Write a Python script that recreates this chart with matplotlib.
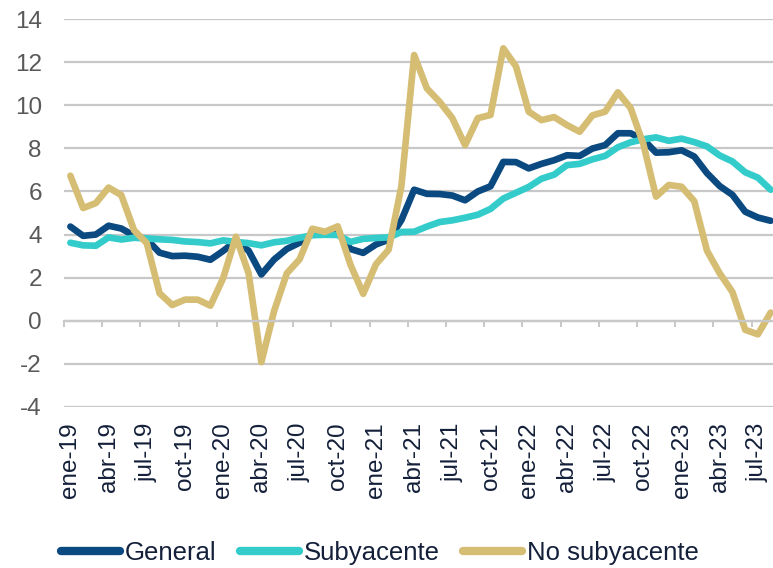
import numpy as np
import matplotlib.pyplot as plt

plt.rcParams['font.family'] = ['Liberation Sans', 'DejaVu Sans']
plt.rcParams['axes.unicode_minus'] = False

# Inflación anual (%), ene-19 a ago-23
meses = ['ene', 'feb', 'mar', 'abr', 'may', 'jun', 'jul', 'ago', 'sep', 'oct', 'nov', 'dic']
fechas = [f'{m}-{a}' for a in range(19, 24) for m in meses][:56]

general = [4.37, 3.94, 4.00, 4.41, 4.28, 3.95, 3.78, 3.16, 3.00, 3.02, 2.97, 2.83,
           3.24, 3.70, 3.25, 2.15, 2.84, 3.33, 3.62, 4.05, 4.01, 4.09, 3.33, 3.15,
           3.54, 3.76, 4.67, 6.08, 5.89, 5.88, 5.81, 5.59, 6.00, 6.24, 7.37, 7.36,
           7.07, 7.28, 7.45, 7.68, 7.65, 7.99, 8.15, 8.70, 8.70, 8.41, 7.80, 7.82,
           7.91, 7.62, 6.85, 6.25, 5.84, 5.06, 4.79, 4.64]
subyacente = [3.62, 3.50, 3.48, 3.87, 3.77, 3.85, 3.82, 3.78, 3.75, 3.68, 3.65, 3.59,
              3.73, 3.66, 3.60, 3.50, 3.64, 3.71, 3.85, 3.97, 3.99, 3.98, 3.66, 3.80,
              3.84, 3.87, 4.12, 4.13, 4.37, 4.58, 4.66, 4.78, 4.92, 5.19, 5.67, 5.94,
              6.21, 6.59, 6.78, 7.22, 7.28, 7.49, 7.65, 8.05, 8.28, 8.42, 8.51, 8.35,
              8.45, 8.29, 8.09, 7.67, 7.39, 6.89, 6.64, 6.08]
no_subyacente = [6.73, 5.23, 5.46, 6.18, 5.83, 4.20, 3.60, 1.28, 0.73, 0.98, 0.98, 0.70,
                 1.98, 3.90, 2.20, -1.92, 0.45, 2.20, 2.85, 4.27, 4.13, 4.38, 2.60, 1.25,
                 2.62, 3.30, 6.25, 12.33, 10.78, 10.16, 9.40, 8.15, 9.40, 9.55, 12.64, 11.80,
                 9.70, 9.31, 9.45, 9.08, 8.77, 9.53, 9.70, 10.60, 9.87, 8.20, 5.76, 6.30,
                 6.22, 5.55, 3.25, 2.20, 1.33, -0.42, -0.63, 0.38]

x = np.arange(len(fechas))
gris = '#C8C8C8'
texto = '#14203A'

fig = plt.figure(figsize=(7.73, 5.68), dpi=100)
ax = fig.add_axes([0.0828, 0.2835, 0.9224, 0.683])

ax.plot(x, general, color='#0B4A80', lw=4.8, solid_joinstyle='round', solid_capstyle='round', label='General')
ax.plot(x, subyacente, color='#33CCCA', lw=4.8, solid_joinstyle='round', solid_capstyle='round', label='Subyacente')
ax.plot(x, no_subyacente, color='#D6BD74', lw=4.8, solid_joinstyle='round', solid_capstyle='round', label='No subyacente')

ax.set_xlim(-0.5, len(fechas) - 0.5)
ax.set_ylim(-4, 14)
yt = np.arange(-4, 15, 2)
ax.set_yticks(yt, labels=[str(v) for v in yt])
ax.tick_params(axis='y', length=0, pad=16, labelsize=17.5, labelcolor='#595959')
ax.yaxis.grid(True, color=gris, lw=1.6)
ax.set_axisbelow(True)

for s in ['top', 'right', 'left']:
    ax.spines[s].set_visible(False)
ax.spines['bottom'].set_position(('data', 0))
ax.spines['bottom'].set_color(gris)
ax.spines['bottom'].set_linewidth(1.6)

pos = np.arange(0, len(fechas), 3)
ax.set_xticks(pos)
ax.set_xticks(np.arange(-0.5, len(fechas), 3), minor=True)
ax.tick_params(axis='x', which='major', length=0, labelbottom=False)
ax.tick_params(axis='x', which='minor', length=4.5, width=1.4, color=gris, direction='out')

secax = ax.secondary_xaxis('bottom')
secax.set_xticks(pos, labels=[fechas[i] for i in pos])
secax.tick_params(length=0, pad=11, labelsize=17.5, labelcolor=texto, labelrotation=90)
secax.spines['bottom'].set_visible(False)

leg = fig.legend(loc='lower left', bbox_to_anchor=(0.075, 0.0), ncol=3, frameon=False,
                 fontsize=18.5, handlelength=2.3, handletextpad=0.2, columnspacing=0.9,
                 borderpad=0.1, borderaxespad=0)
for t in leg.get_texts():
    t.set_color(texto)
for h in leg.get_lines():
    h.set_linewidth(6)

fig.savefig('out.png', dpi=100)
